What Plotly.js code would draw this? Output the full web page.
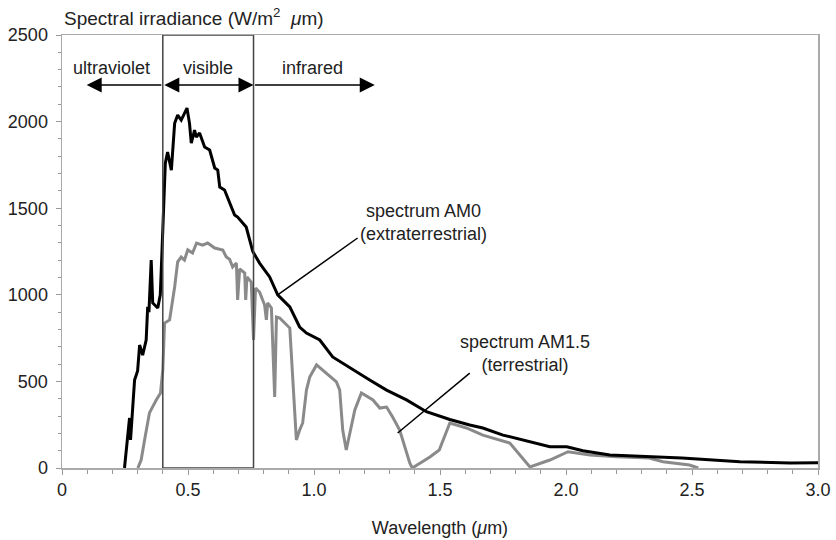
<!DOCTYPE html>
<html>
<head>
<meta charset="utf-8">
<script src="https://cdn.plot.ly/plotly-3.0.1.min.js"></script>
<style>html,body{margin:0;padding:0;background:#fff;}#chart{width:836px;height:540px;}</style>
</head>
<body>
<div id="chart"></div>
<script>
// Extraterrestrial spectrum (AM0)
const am0Wavelength = [0.248,0.268,0.272,0.288,0.300,0.308,0.320,0.334,0.340,0.345,0.354,0.360,0.380,0.390,0.395,0.400,0.405,0.410,0.419,0.428,0.434,0.447,0.459,0.473,0.486,0.496,0.506,0.513,0.526,0.533,0.546,0.566,0.586,0.606,0.618,0.626,0.645,0.665,0.685,0.697,0.731,0.757,0.784,0.824,0.856,0.904,0.943,0.970,1.023,1.074,1.154,1.221,1.288,1.367,1.446,1.539,1.618,1.670,1.750,1.857,1.936,2.003,2.067,2.174,2.330,2.460,2.690,2.890,3.000];
const am0Irradiance = [0,289,162,508,560,710,652,739,930,900,1200,953,924,1000,1184,1420,1650,1760,1824,1750,1720,1990,2038,2009,2050,2078,1990,1876,1951,1911,1934,1853,1836,1732,1720,1622,1605,1530,1461,1449,1391,1250,1183,1103,1000,930,814,779,739,641,566,508,450,393,325,280,248,231,190,152,123,123,100,75,65,58,36,29,30];

// Terrestrial spectrum (AM1.5)
const am15Wavelength = [0.301,0.314,0.330,0.347,0.374,0.391,0.400,0.407,0.427,0.447,0.459,0.473,0.486,0.499,0.518,0.534,0.558,0.578,0.606,0.638,0.652,0.665,0.677,0.692,0.697,0.705,0.725,0.729,0.734,0.751,0.760,0.768,0.784,0.804,0.811,0.816,0.831,0.844,0.851,0.864,0.904,0.923,0.930,0.943,0.955,0.970,0.983,1.010,1.089,1.102,1.114,1.128,1.142,1.162,1.188,1.234,1.261,1.288,1.312,1.340,1.380,1.390,1.460,1.497,1.539,1.605,1.670,1.777,1.857,1.936,2.008,2.095,2.200,2.330,2.385,2.490,2.525];
const am15Irradiance = [0,46,180,318,393,433,566,837,855,1045,1190,1218,1201,1259,1241,1299,1287,1299,1270,1259,1218,1205,1161,1184,970,1150,1126,970,1103,1074,739,1039,1016,941,855,953,924,410,872,866,808,294,162,219,260,450,525,595,497,450,219,104,202,335,433,393,346,352,294,219,29,0,64,104,260,231,190,144,6,46,94,75,65,58,36,17,0];

// Axis ticks
const xTickVals = [0,0.5,1.0,1.5,2.0,2.5,3.0];
const xTickText = ["0","0.5","1.0","1.5","2.0","2.5","3.0"];
const yTickVals = [0,500,1000,1500,2000,2500];

// Spectral regions (µm) and labels
const visibleRange = [0.40, 0.76];
const regionLabels = ["ultraviolet","visible","infrared"];
const regionLabelX = [0.197, 0.578, 0.995];
const regionLabelY = 2309;
const arrowY = 2211;
const uvArrowEnd = 0.098;
const irArrowEnd = 1.241;

// Curve callouts
const am0Label = "spectrum AM0<br>(extraterrestrial)";
const am0LabelPos = [1.436, 1420];
const am0Leader = [[0.856, 1000],[1.173, 1328]];
const am15Label = "spectrum AM1.5<br>(terrestrial)";
const am15LabelPos = [1.837, 664];
const am15Leader = [[1.332, 202],[1.618, 548]];

const FONT = "Liberation Sans, Arial, sans-serif";
const TXT = "#222";

const traces = [
  {x: am15Wavelength, y: am15Irradiance, type: "scatter", mode: "lines",
   line: {color: "#8a8a8a", width: 3}, hoverinfo: "skip"},
  {x: am0Wavelength, y: am0Irradiance, type: "scatter", mode: "lines",
   line: {color: "#000", width: 3}, hoverinfo: "skip"}
];

const annotations = [];
// y-axis title at top-left
annotations.push({xref: "paper", yref: "paper", x: 0, y: 1.042, xanchor: "left", yanchor: "middle",
  text: "Spectral irradiance (W/m<sup>2</sup>  <i>μ</i>m)", showarrow: false,
  font: {family: FONT, size: 19, color: TXT}});
// region labels
regionLabels.forEach((t, i) => annotations.push({xref: "x", yref: "y", x: regionLabelX[i], y: regionLabelY,
  text: t, showarrow: false, font: {family: FONT, size: 18, color: TXT}}));
// arrows
const arrowCommon = {xref: "x", yref: "y", axref: "x", ayref: "y", text: "", showarrow: true,
  arrowcolor: "#000", arrowwidth: 1.5, arrowsize: 2, arrowhead: 2, standoff: 0, startstandoff: 0};
annotations.push(Object.assign({}, arrowCommon, {x: uvArrowEnd, y: arrowY, ax: visibleRange[0], ay: arrowY}));
annotations.push(Object.assign({}, arrowCommon, {x: visibleRange[1], y: arrowY, ax: visibleRange[0], ay: arrowY,
  arrowside: "end+start", startarrowhead: 2, startarrowsize: 2}));
annotations.push(Object.assign({}, arrowCommon, {x: irArrowEnd, y: arrowY, ax: visibleRange[1], ay: arrowY}));
// curve callouts
annotations.push({xref: "x", yref: "y", x: am0LabelPos[0], y: am0LabelPos[1], text: am0Label, showarrow: false,
  font: {family: FONT, size: 18, color: TXT}, align: "center"});
annotations.push({xref: "x", yref: "y", x: am15LabelPos[0], y: am15LabelPos[1], text: am15Label, showarrow: false,
  font: {family: FONT, size: 18, color: TXT}, align: "center"});

const shapes = [
  {type: "rect", xref: "x", yref: "y", x0: visibleRange[0], x1: visibleRange[1], y0: 0, y1: 2500,
   line: {color: "#444", width: 1.5}, layer: "above"},
  {type: "line", xref: "x", yref: "y", x0: am0Leader[0][0], y0: am0Leader[0][1], x1: am0Leader[1][0], y1: am0Leader[1][1],
   line: {color: "#000", width: 1.5}},
  {type: "line", xref: "x", yref: "y", x0: am15Leader[0][0], y0: am15Leader[0][1], x1: am15Leader[1][0], y1: am15Leader[1][1],
   line: {color: "#000", width: 1.5}}
];

const layout = {
  width: 836, height: 540,
  margin: {l: 62, r: 18, t: 35, b: 72},
  paper_bgcolor: "#fff", plot_bgcolor: "#fff",
  showlegend: false,
  font: {family: FONT, size: 18, color: TXT},
  xaxis: {
    range: [0, 3], showgrid: false, zeroline: false,
    showline: true, linecolor: "#aaa", linewidth: 1.5, mirror: true,
    tickmode: "array", tickvals: xTickVals, ticktext: xTickText,
    ticks: "outside", ticklen: 5, tickcolor: "#999", tickwidth: 1,
    minor: {dtick: 0.1, ticks: "outside", ticklen: 4, tickcolor: "#999", tickwidth: 1},
    tickfont: {family: FONT, size: 18, color: TXT},
    title: {text: "Wavelength (<i>μ</i>m)", standoff: 22, font: {family: FONT, size: 18, color: TXT}}
  },
  yaxis: {
    range: [0, 2500], showgrid: false, zeroline: false,
    showline: true, linecolor: "#aaa", linewidth: 1.5, mirror: true,
    tickmode: "array", tickvals: yTickVals,
    ticks: "outside", ticklen: 5, tickcolor: "#999", tickwidth: 1,
    ticklabelstandoff: 4,
    minor: {dtick: 100, ticks: "outside", ticklen: 3, tickcolor: "#999", tickwidth: 1},
    tickfont: {family: FONT, size: 18, color: TXT}
  },
  annotations: annotations,
  shapes: shapes
};

Plotly.newPlot("chart", traces, layout, {staticPlot: true, displayModeBar: false});
</script>
</body>
</html>
